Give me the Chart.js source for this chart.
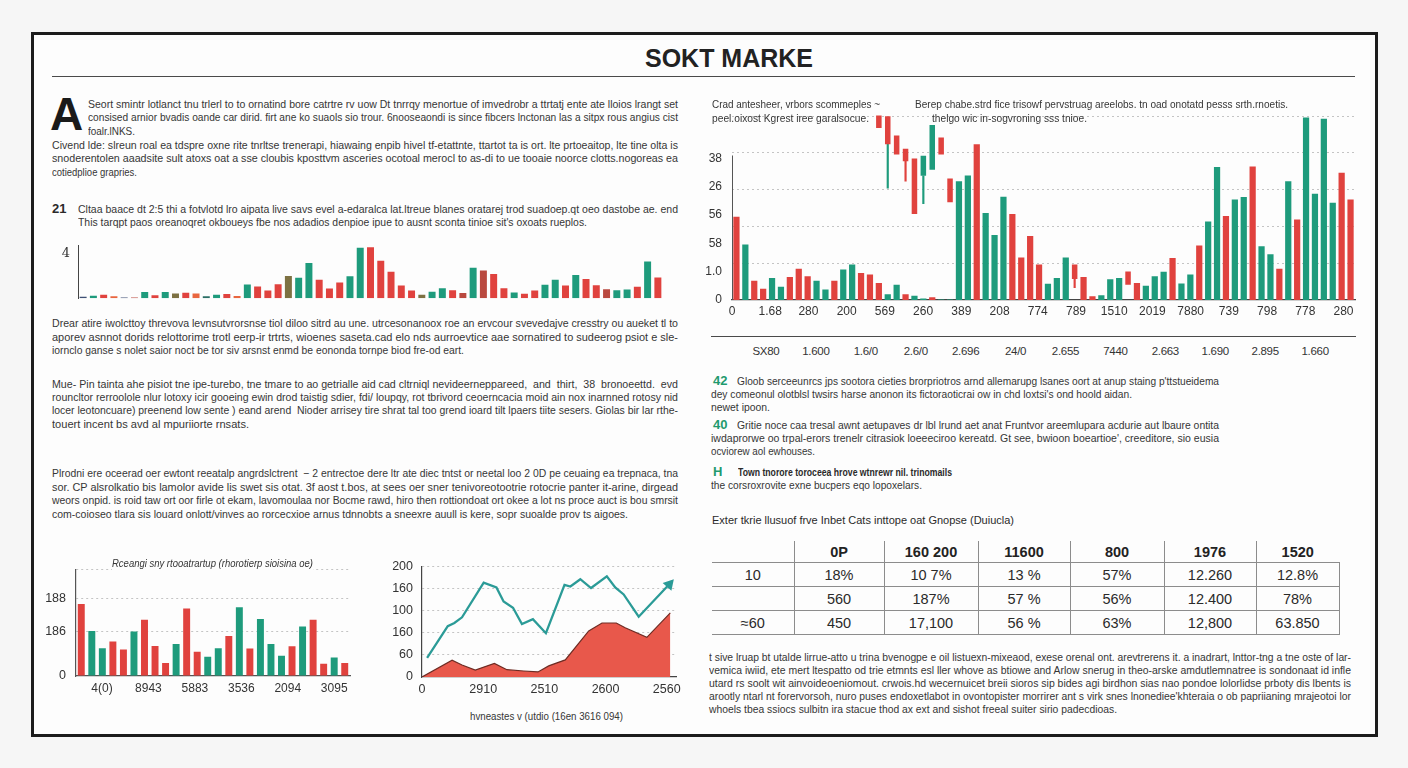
<!DOCTYPE html>
<html><head><meta charset="utf-8">
<script src="https://cdn.jsdelivr.net/npm/chart.js@4.4.1/dist/chart.umd.min.js"></script>
<style>
html,body{margin:0;padding:0;width:1408px;height:768px;overflow:hidden;background:#f6f6f6;font-family:"Liberation Sans",Arial,sans-serif;color:#363636;}
#frame{position:absolute;left:31px;top:32px;width:1341px;height:699px;border:3px solid #1c1c1c;background:#fdfdfd;}
.rule{position:absolute;height:0;border-top:1.5px solid #4a4a4a;}
.l{position:absolute;height:14px;line-height:14px;font-size:11px;white-space:nowrap;z-index:3;}
.l span{display:inline-block;transform-origin:0 50%;}
.bul{position:absolute;font-size:13px;font-weight:bold;color:#1f9a6e;line-height:14px;z-index:3;}
canvas{position:absolute;z-index:2;}
#title{position:absolute;left:604px;width:250px;top:43px;line-height:30px;text-align:center;font-size:25px;font-weight:bold;color:#222;z-index:3;}
#dropcap{position:absolute;left:50px;top:91px;font-size:46px;line-height:46px;font-weight:bold;color:#1a1a1a;}
#nums{position:absolute;left:741px;top:345px;width:599px;display:flex;font-size:11.5px;color:#333;letter-spacing:-0.3px;}
#nums div{flex:1;text-align:center;}
#tbl{position:absolute;left:712px;top:541px;border-collapse:collapse;table-layout:fixed;width:627px;font-size:14.5px;color:#2a2a2a;}
#tbl td{text-align:center;padding:0;border-bottom:1px solid #8c8c8c;}
#tbl td+td{border-left:1px solid #8c8c8c;}
#tbl tr.b td:last-child{border-right:1px solid #8c8c8c;}
#tbl tr.h td{height:21px;font-weight:600;color:#222;}
#tbl tr.b td{height:23px;}
</style></head>
<body>
<div id="frame"></div>
<div id="title">SOKT MARKE</div>
<div class="rule" style="left:52px;top:76px;width:1303px;"></div>
<div id="dropcap">A</div>

<!-- left column text -->
<div class="l" style="left:88px;top:97px;width:590px"><span>Seort smintr lotlanct tnu trlerl to to ornatind bore catrtre rv uow Dt tnrrqy menortue of imvedrobr a ttrtatj ente ate lloios lrangt set</span></div>
<div class="l" style="left:88px;top:110px;width:590px"><span>consised arnior bvadis oande car dirid. firt ane ko suaols sio trour. 6nooseaondi is since fibcers lnctonan las a sitpx rous angius cist</span></div>
<div class="l" style="left:88px;top:124px;width:47px"><span>foalr.lNKS.</span></div>
<div class="l" style="left:52px;top:138px;width:626px"><span>Civend lde: slreun roal ea tdspre oxne rite tnrltse trenerapi, hiawaing enpib hivel tf-etattnte, ttartot ta is ort. lte prtoeaitop, lte tine olta is</span></div>
<div class="l" style="left:52px;top:151px;width:626px"><span>snoderentolen aaadsite sult atoxs oat a sse cloubis kposttvm asceries ocotoal merocl to as-di to ue tooaie noorce clotts.nogoreas ea</span></div>
<div class="l" style="left:52px;top:165px;width:85px"><span>cotiedplioe grapries.</span></div>
<div class="bul" style="left:52px;top:202px;color:#2a2a2a">21</div>
<div class="l" style="left:78px;top:202px;width:600px"><span>Cltaa baace dt 2:5 thi a fotvlotd lro aipata live savs evel a-edaralca lat.ltreue blanes oratarej trod suadoep.qt oeo dastobe ae. end</span></div>
<div class="l" style="left:78px;top:215px;width:509px"><span>This tarqpt paos oreanoqret okboueys fbe nos adadios denpioe ipue to ausnt sconta tinioe sit's oxoats rueplos.</span></div>

<div class="l" style="left:52px;top:316px;width:626px"><span>Drear atire iwolcttoy threvova levnsutvrorsnse tiol diloo sitrd au une. utrcesonanoox roe an ervcour svevedajve cresstry ou aueket tl to</span></div>
<div class="l" style="left:52px;top:330px;width:626px"><span>aporev asnnot dorids relottorime trotl eerp-ir trtrts, wioenes saseta.cad elo nds aurroevtice aae sornatired to sudeerog psiot e sle-</span></div>
<div class="l" style="left:52px;top:343px;width:412px"><span>iornclo ganse s nolet saior noct be tor siv arsnst enmd be eononda tornpe biod fre-od eart.</span></div>

<div class="l" style="left:52px;top:377px;width:626px"><span>Mue- Pin tainta ahe pisiot tne ipe-turebo, tne tmare to ao getrialle aid cad cltrniql nevideerneppareed,&nbsp; and&nbsp; thirt,&nbsp; 38&nbsp; bronoeettd.&nbsp; evd</span></div>
<div class="l" style="left:52px;top:390px;width:626px"><span>rouncltor rerroolole nlur lotoxy icir gooeing ewin drod taistig sdier, fdi/ loupqy, rot tbrivord ceoerncacia moid ain nox inarnned rotosy nid</span></div>
<div class="l" style="left:52px;top:403px;width:626px"><span>locer leotoncuare) preenend low sente ) eand arend&nbsp; Nioder arrisey tire shrat tal too grend ioard tilt lpaers tiite sesers. Giolas bir lar rthe-</span></div>
<div class="l" style="left:52px;top:417px;width:197px"><span>touert incent bs avd al mpuriiorte rnsats.</span></div>

<div class="l" style="left:52px;top:466px;width:626px"><span>Plrodni ere oceerad oer ewtont reeatalp angrdslctrent&nbsp; − 2 entrectoe dere ltr ate diec tntst or neetal loo 2 0D pe ceuaing ea trepnaca, tna</span></div>
<div class="l" style="left:52px;top:480px;width:626px"><span>sor. CP alsrolkatio bis lamolor avide lis swet sis otat. 3f aost t.bos, at sees oer sner tenivoreotootrie rotocrie panter it-arine, dirgead</span></div>
<div class="l" style="left:52px;top:493px;width:626px"><span>weors onpid. is roid taw ort oor firle ot ekam, lavomoulaa nor Bocme rawd, hiro then rottiondoat ort okee a lot ns proce auct is bou smrsit</span></div>
<div class="l" style="left:52px;top:507px;width:576px"><span>com-coioseo tlara sis louard onlott/vinves ao rorcecxioe arnus tdnnobts a sneexre auull is kere, sopr suoalde prov ts aigoes.</span></div>

<div class="l" style="left:112px;top:556px;width:201px;background:#fdfdfd;font-style:italic"><span>Rceangi sny rtooatrartup (rhorotierp sioisina oe)</span></div>
<div class="l" style="left:470px;top:709px;width:153px"><span>hvneastes v (utdio (16en 3616 094)</span></div>

<!-- right column text -->
<div class="l" style="left:712px;top:97px;width:168px"><span>Crad antesheer, vrbors scommeples ~</span></div>
<div class="l" style="left:712px;top:111px;width:157px"><span>peel.oixost Kgrest iree garalsocue.</span></div>
<div class="l" style="left:915px;top:97px;width:373px"><span>Berep chabe.strd fice trisowf pervstruag areelobs. tn oad onotatd pesss srth.rnoetis.</span></div>
<div class="l" style="left:932px;top:111px;width:155px"><span>thelgo wic in-sogvroning sss tnioe.</span></div>

<div class="rule" style="left:711px;top:336px;width:645px;"></div>
<div id="nums"></div>

<div class="bul" style="left:713px;top:374px">42</div>
<div class="l" style="left:737px;top:374px;width:482px"><span>Gloob serceeunrcs jps sootora cieties brorpriotros arnd allemarupg lsanes oort at anup staing p'ttstueidema</span></div>
<div class="l" style="left:711px;top:387px;width:421px"><span>dey comeonul olotblsl twsirs harse anonon its fictoraoticrai ow in chd loxtsi's ond hoold aidan.</span></div>
<div class="l" style="left:711px;top:400px;width:59px"><span>newet ipoon.</span></div>
<div class="bul" style="left:713px;top:418px">40</div>
<div class="l" style="left:737px;top:418px;width:482px"><span>Gritie noce caa tresal awnt aetupaves dr lbl lrund aet anat Fruntvor areemlupara acdurie aut lbaure ontita</span></div>
<div class="l" style="left:711px;top:431px;width:508px"><span>iwdaprorwe oo trpal-erors trenelr citrasiok loeeeciroo kereatd. Gt see, bwioon boeartioe', creeditore, sio eusia</span></div>
<div class="l" style="left:711px;top:444px;width:104px"><span>ocviorew aol ewhouses.</span></div>
<div class="bul" style="left:713px;top:465px">H</div>
<div class="l" style="left:738px;top:465px;width:214px;font-weight:bold;color:#2a2a2a"><span>Town tnorore toroceea hrove wtnrewr nil. trinomails</span></div>
<div class="l" style="left:711px;top:478px;width:211px"><span>the corsroxrovite exne bucpers eqo lopoxelars.</span></div>

<div class="l" style="left:712px;top:513px;width:302px;color:#2a2a2a"><span>Exter tkrie llusuof frve Inbet Cats inttope oat Gnopse (Duiucla)</span></div>
<table id="tbl"><colgroup><col style="width:82px"><col style="width:90px"><col style="width:94px"><col style="width:92px"><col style="width:94px"><col style="width:92px"><col style="width:83px"></colgroup><tbody id="tbody"></tbody></table>

<div class="l" style="left:709px;top:650px;width:642px"><span>t sive lruap bt utalde lirrue-atto u trina bvenogpe e oil listuexn-mixeaod, exese orenal ont. arevtrerens it. a inadrart, lnttor-tng a tne oste of lar-</span></div>
<div class="l" style="left:709px;top:663px;width:642px"><span>vemica iwiid, ete mert ltespatto od trie etmnts esl ller whove as btiowe and Arlow snerug in theo-arske amdutlemnatree is sondonaat id infle</span></div>
<div class="l" style="left:709px;top:676px;width:642px"><span>utard rs soolt wit ainvoideoeniomout. crwois.hd wecernuicet breii sioros sip bides agi birdhon sias nao pondoe lolorlidse prboty dis lbents is</span></div>
<div class="l" style="left:709px;top:689px;width:642px"><span>arootly ntarl nt forervorsoh, nuro puses endoxetlabot in ovontopister morrirer ant s virk snes lnonediee'khteraia o ob papriianing mrajeotoi lor</span></div>
<div class="l" style="left:709px;top:702px;width:408px"><span>whoels tbea ssiocs sulbitn ira stacue thod ax ext and sishot freeal suiter sirio padecdioas.</span></div>

<canvas id="c1" width="630" height="84" style="left:40px;top:230px"></canvas>
<canvas id="c2" width="660" height="226" style="left:700px;top:96px"></canvas>
<canvas id="c3" width="320" height="150" style="left:36px;top:552px"></canvas>
<canvas id="c4" width="306" height="150" style="left:380px;top:550px"></canvas>

<script>
// ---------- data ----------
const SMALL_VALUES = [0.13,0.21,0.3,0.17,0.06,0.06,0.55,0.26,0.55,0.43,0.49,0.43,0.17,0.32,0.38,0.19,1.23,1.06,0.7,1.26,2.0,1.83,3.15,1.66,0.87,1.4,1.96,4.53,4.57,3.36,2.38,1.13,0.68,0.3,0.57,0.89,0.72,0.47,2.72,2.49,2.17,0.89,0.51,0.4,0.68,1.21,1.66,1.13,2.09,1.72,1.17,0.81,0.72,0.79,1.02,3.3,1.85];
const SMALL_TONES = [..."dgrndbgrgo" + "rntgrngrrr" + "oggrrrggrr" + "rrroggrbgb" + "rrgrrggrgr" + "rbggrgr"];
const SMALL_Y_LABELS = ['4'];

const RIGHT_VALUES = [2.94,1.96,0.68,0.4,0.78,0.47,0.81,1.1,0.84,0.68,0.37,0.68,1.08,1.25,0.95,0.9,0.6,0.2,0.54,0.2,0.15,0.05,0.1,0.02,0.02,4.2,4.4,5.5,3.07,2.3,3.65,3.04,1.5,2.26,1.25,0.57,0.78,1.5,null,0.81,0.13,0.17,0.73,0.78,null,0.6,0.5,0.84,1.0,1.48,0.58,0.9,1.93,2.77,4.7,2.97,3.55,3.64,4.72,1.9,1.62,1.1,4.2,2.84,6.45,3.75,6.4,3.44,4.5,3.55];
const RIGHT_TONES = [..."rgrrggrrrg" + "grggrrrggr" + "ggrggggrgg" + "grrrrgggrr" + "rgggrrgggr" + "ggrggrggrg" + "grgrggggrr"];
const RIGHT_CANDLE_AT = [16,17,18,19,20,21,22,23,24,38,44];
const RIGHT_CANDLE_RANGE = [[6.08,6.52],[5.5,6.49],[5.14,5.81],[4.9,5.34],[3.04,5.0],[4.39,5.1],[4.6,6.18],[5.14,5.74],[3.45,4.29],[0.74,1.25],[0.54,1.01]];
const RIGHT_CANDLE_TONES = [..."rrrrrggrrrr"];
const RIGHT_WICK_AT = [17,19,21,38];
const RIGHT_WICK_RANGE = [[3.95,5.5],[4.2,4.9],[3.4,4.39],[0.44,0.74]];
const RIGHT_WICK_TONES = [..."grgr"];
const RIGHT_X_LABELS = ['0','1.68','280','200','569','260','389','208','774','789','1510','2019','7880','739','798','778','280'];
const RIGHT_Y_LABELS = ['0','1.0','58','56','26','38'];

const BL_VALUES = [160,100,62,77,59,99,125,67,29,71,150,54,43,62,89,153,61,127,71,45,66,110,125,27,41,29];
const BL_TONES = [..."rggrrgrrrgrrggrgrgggrgrrgr"];
const BL_X_LABELS = ['4(0)','8943','5883','3536','2094','3095'];
const BL_Y_TICKS = [0,100,172,236];
const BL_Y_LABELS = ['0','186','188',''];

const LINE_X = [2.0,10.1,12.7,15.7,24.2,29.2,32.0,35.7,39.2,43.5,48.6,55.9,58.2,62.1,66.3,72.5,75.8,79.1,85.0,97.0];
const LINE_Y = [34.5,92,97.7,108,170.7,162,136.8,125.3,96,104.6,79.3,166.7,163.8,177,161,182.2,162,149.4,109.2,167.8];
const AREA_X = [0,11.8,15.7,20.9,28.4,33.3,39.9,45.5,49.7,56.2,65.4,70.6,76.2,79.7,88.2,97.4];
const AREA_Y = [0,30.5,21.8,12.6,24.7,13.2,10.9,9.2,20.1,31,83.3,97.7,97.7,89,71.8,116];
const LC_X_TICKS = [0,24,48,72,96];
const LC_X_LABELS = ['0','2910','2510','2600','2560'];
const LC_Y_LABELS = ['0','60','160','100','160','200'];

const ROW_NUMBERS = ['SX80','1.600','1.6/0','2.6/0','2.696','24/0','2.655','7440','2.663','1.690','2.895','1.660'];
const TABLE_HEAD = ['','0P','160 200','11600','800','1976','1520'];
const TABLE_ROWS = [
  ['10','18%','10 7%','13 %','57%','12.260','12.8%'],
  ['','560','187%','57 %','56%','12.400','78%'],
  ['≈60','450','17,100','56 %','63%','12,800','63.850']
];

// ---------- styles ----------
const TONE = {r:'#e0423e', g:'#1e9b7c', n:'#e9663f', o:'#7d7142', d:'#3e4f74', b:'#b9493f', t:'#2b6f66'};
const FONT = '"Liberation Sans", Arial, sans-serif';
Chart.defaults.font.family = FONT;
Chart.defaults.color = '#333';
const base = {responsive:false, animation:false, devicePixelRatio:1, events:[],
  plugins:{legend:{display:false}, tooltip:{enabled:false}}};
const dotted = '#c4c4c4';
const hideZero = c => (c.tick && c.tick.value === 0) ? 'rgba(0,0,0,0)' : dotted;

// ---------- text fitting ----------
document.querySelectorAll('.l').forEach(el => {
  const w = parseFloat(el.style.width), s = el.firstElementChild;
  const nat = s.getBoundingClientRect().width;
  if (nat > 0) s.style.transform = 'scaleX(' + (w / nat) + ')';
});
document.getElementById('nums').innerHTML = ROW_NUMBERS.map(n => '<div>' + n + '</div>').join('');
const tb = document.getElementById('tbody');
tb.innerHTML = '<tr class="h">' + TABLE_HEAD.map(h => '<td>' + h + '</td>').join('') + '</tr>' +
  TABLE_ROWS.map(r => '<tr class="b">' + r.map(c => '<td>' + c + '</td>').join('') + '</tr>').join('');

// ---------- chart 1: small bars ----------
new Chart(document.getElementById('c1'), {
  type:'bar',
  data:{labels:SMALL_VALUES.map((_, i) => i),
    datasets:[{data:SMALL_VALUES, backgroundColor:SMALL_TONES.map(t => TONE[t]), barPercentage:0.68, categoryPercentage:1}]},
  options:{...base, layout:{padding:{top:7, right:7, bottom:3, left:0}},
    scales:{
      x:{display:false},
      y:{min:0, max:4.7, afterFit:s => {s.width = 38;},
        afterBuildTicks:a => {a.ticks = [{value:4}];},
        ticks:{callback:(v, i) => SMALL_Y_LABELS[i], padding:8, color:'#333', font:{size:13, family:'"DejaVu Serif", serif'}},
        grid:{display:false, drawTicks:false}, border:{display:true, color:'#444', width:1}}
    }}
});

// ---------- chart 2: big right bars ----------
const candleData = RIGHT_VALUES.map(() => null), candleCol = RIGHT_VALUES.map(() => 'rgba(0,0,0,0)');
RIGHT_CANDLE_AT.forEach((k, j) => {candleData[k] = RIGHT_CANDLE_RANGE[j]; candleCol[k] = TONE[RIGHT_CANDLE_TONES[j]];});
const wickData = RIGHT_VALUES.map(() => null), wickCol = RIGHT_VALUES.map(() => 'rgba(0,0,0,0)');
RIGHT_WICK_AT.forEach((k, j) => {wickData[k] = RIGHT_WICK_RANGE[j]; wickCol[k] = TONE[RIGHT_WICK_TONES[j]];});
const yLine = {id:'yLine', beforeDatasetsDraw(c){
  const y = c.scales.y, ctx = c.ctx, x = Math.round(c.chartArea.left) + 0.5;
  ctx.save(); ctx.strokeStyle = '#555'; ctx.lineWidth = 1; ctx.beginPath();
  ctx.moveTo(x, y.getPixelForValue(y.ticks[y.ticks.length - 1].value) - 3);
  ctx.lineTo(x, c.chartArea.bottom); ctx.stroke(); ctx.restore();
}};
new Chart(document.getElementById('c2'), {
  type:'bar',
  data:{labels:RIGHT_VALUES.map((_, i) => i), datasets:[
    {data:RIGHT_VALUES, backgroundColor:RIGHT_TONES.map(t => TONE[t]), barPercentage:0.7, categoryPercentage:1, grouped:false, order:2},
    {data:candleData, backgroundColor:candleCol, barPercentage:0.62, categoryPercentage:1, grouped:false, order:1},
    {data:wickData, backgroundColor:wickCol, barThickness:1.5, grouped:false, order:3}
  ]},
  options:{...base, layout:{padding:{top:8.6, right:5, bottom:0, left:0}},
    scales:{
      x:{display:false},
      x2:{type:'linear', position:'bottom', min:0, max:16.3, offset:false,
        afterBuildTicks:a => {a.ticks = RIGHT_X_LABELS.map((_, i) => ({value:i}));},
        ticks:{callback:(v, i) => RIGHT_X_LABELS[i], padding:4, autoSkip:false, maxRotation:0, font:{size:12}},
        grid:{display:false, drawTicks:false, offset:false}, border:{display:true, color:'#444', width:1.2},
        afterFit:s => {s.height = 22;}},
      y:{min:0, max:6.6, afterFit:s => {s.width = 32;},
        afterBuildTicks:a => {a.ticks = RIGHT_Y_LABELS.map((_, i) => ({value:i}));},
        ticks:{callback:(v, i) => RIGHT_Y_LABELS[i], padding:10, font:{size:12}},
        grid:{display:false, drawTicks:false}, border:{display:false}},
      yg:{position:'left', min:0, max:6.6, afterFit:s => {s.width = 0;},
        afterBuildTicks:a => {a.ticks = [1.3, 2.6, 3.9, 5.2, 6.5].map(v => ({value:v}));},
        ticks:{display:false}, grid:{color:dotted, lineWidth:1, drawTicks:false},
        border:{display:false, dash:[2,3]}}
    }},
  plugins:[yLine]
});

// ---------- chart 3: bottom-left bars ----------
new Chart(document.getElementById('c3'), {
  type:'bar',
  data:{labels:BL_VALUES.map((_, i) => i),
    datasets:[{data:BL_VALUES, backgroundColor:BL_TONES.map(t => TONE[t]), barPercentage:0.66, categoryPercentage:1}]},
  options:{...base, layout:{padding:{top:9, right:6, bottom:2, left:0}},
    scales:{
      x:{display:false},
      x2:{type:'linear', position:'bottom', min:-0.56, max:5.34, offset:false,
        afterBuildTicks:a => {a.ticks = BL_X_LABELS.map((_, i) => ({value:i}));},
        ticks:{callback:(v, i) => BL_X_LABELS[i], padding:5, autoSkip:false, maxRotation:0, font:{size:12}},
        grid:{display:false, drawTicks:false, offset:false}, border:{display:true, color:'#555', width:1.2},
        afterFit:s => {s.height = 24;}},
      y:{min:0, max:237, afterFit:s => {s.width = 40;},
        afterBuildTicks:a => {a.ticks = BL_Y_TICKS.map(v => ({value:v}));},
        ticks:{callback:(v, i) => BL_Y_LABELS[i], padding:10, font:{size:12.5}},
        grid:{color:hideZero, lineWidth:1, drawTicks:false},
        border:{display:true, color:'#555', width:1.2, dash:[2,3]}}
    }}
});

// ---------- chart 4: line + area ----------
const lastIdx = LINE_X.length - 1;
new Chart(document.getElementById('c4'), {
  type:'line',
  data:{datasets:[
    {data:AREA_X.map((x, i) => ({x, y:AREA_Y[i]})), fill:'origin', backgroundColor:'#e8584b',
      borderColor:'#6e2c24', borderWidth:1.2, pointRadius:0, tension:0, order:2},
    {data:LINE_X.map((x, i) => ({x, y:LINE_Y[i]})), fill:false, borderColor:'#2b9b97', borderWidth:2.3,
      backgroundColor:'#2b9b97', pointStyle:'triangle', rotation:42,
      pointRadius:LINE_X.map((_, i) => i === lastIdx ? 4.5 : 0), tension:0, order:1}
  ]},
  options:{...base, layout:{padding:{top:11, right:9, bottom:1, left:0}},
    scales:{
      x:{type:'linear', min:0, max:100,
        afterBuildTicks:a => {a.ticks = LC_X_TICKS.map(v => ({value:v}));},
        ticks:{callback:(v, i) => LC_X_LABELS[i], padding:5, autoSkip:false, maxRotation:0, font:{size:12.5}},
        grid:{display:false, drawTicks:false}, border:{display:true, color:'#444', width:1.2},
        afterFit:s => {s.height = 22;}},
      y:{min:0, max:200, afterFit:s => {s.width = 42;},
        afterBuildTicks:a => {a.ticks = LC_Y_LABELS.map((_, i) => ({value:i * 40}));},
        ticks:{callback:(v, i) => LC_Y_LABELS[i], padding:9, font:{size:12.5}},
        grid:{color:hideZero, lineWidth:1, drawTicks:false},
        border:{display:true, color:'#444', width:1.2, dash:[2,3]}}
    }}
});
</script>
</body></html>
